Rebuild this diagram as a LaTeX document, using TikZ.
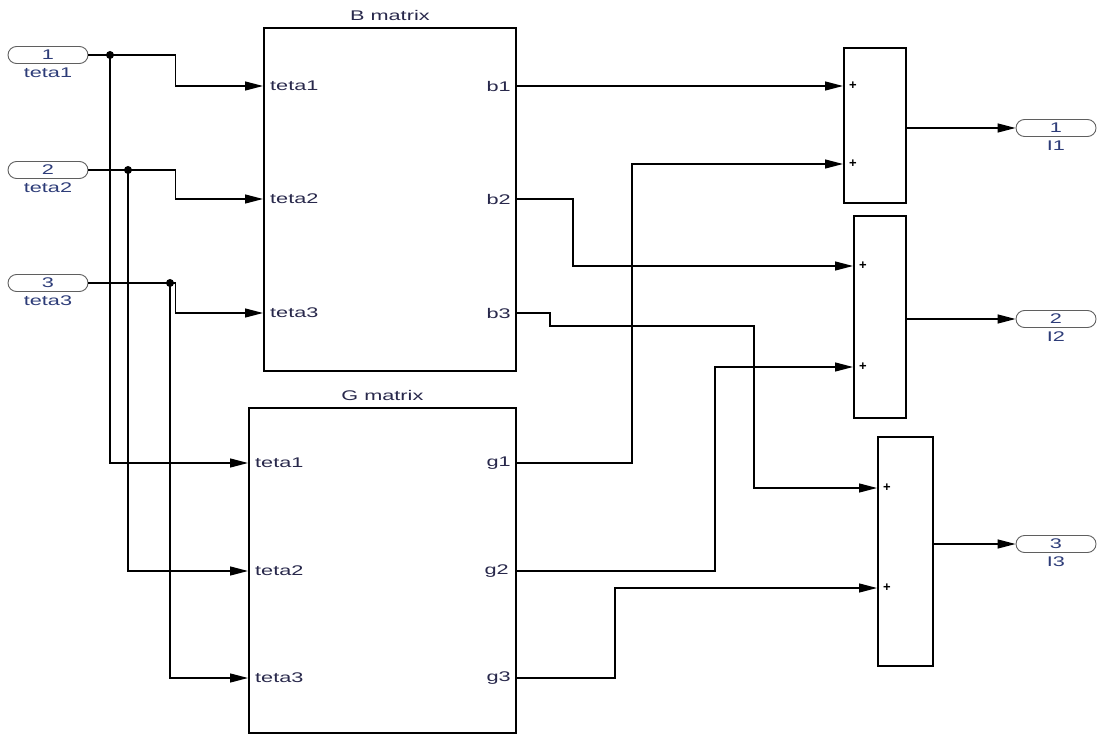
\documentclass[tikz,border=0pt]{standalone}
\usepackage{fontspec}
\usepackage{graphicx}
\setmainfont{Liberation Sans}
\usetikzlibrary{arrows.meta, positioning}

\definecolor{labcol}{RGB}{40,40,75}
\definecolor{numcol}{RGB}{45,60,120}
\definecolor{ovalcol}{RGB}{95,95,95}
\newcommand{\sw}[1]{\scalebox{1.55}[1]{#1}}

\begin{document}
\begin{tikzpicture}[x=1pt, y=-1pt, >={Triangle[length=18pt,width=9pt]},
  wire/.style={line width=1.3pt},
  blk/.style={draw, line width=1.8pt, inner sep=0pt, anchor=north west},
  oval/.style={draw=ovalcol, line width=0.9pt, rounded corners=8.5pt,
    minimum width=80pt, minimum height=17pt, inner sep=0pt, text=numcol,
    font=\fontsize{14}{16}\selectfont},
  lbl/.style={inner sep=0pt, text=labcol, font=\fontsize{14}{16}\selectfont},
  plus/.style={inner sep=0pt, font=\fontsize{13}{15}\selectfont\bfseries},
  jdot/.style={circle, fill, inner sep=0pt, minimum size=8pt}]
  \useasboundingbox (0,0) rectangle (1097,735);

  % Inports
  \node[oval] (in1) at (48,55)  {\sw{1}};
  \node[oval] (in2) at (48,170) {\sw{2}};
  \node[oval] (in3) at (48,283) {\sw{3}};
  \node[lbl, text=numcol, below=4pt of in1] {\sw{teta1}};
  \node[lbl, text=numcol, below=4pt of in2] {\sw{teta2}};
  \node[lbl, text=numcol, below=4pt of in3] {\sw{teta3}};

  % Subsystems
  \node[blk, minimum width=252pt, minimum height=343pt] (B) at (263,27) {};
  \node[blk, minimum width=267pt, minimum height=325pt] (G) at (248,407) {};
  \node[lbl, above=6pt of B] {\sw{B matrix}};
  \node[lbl, above=6pt of G] {\sw{G matrix}};

  \coordinate (Bt1) at (263,86);  \coordinate (Bb1) at (515,86);
  \coordinate (Bt2) at (263,199); \coordinate (Bb2) at (515,199);
  \coordinate (Bt3) at (263,313); \coordinate (Bb3) at (515,313);
  \coordinate (Gt1) at (248,463); \coordinate (Gg1) at (515,463);
  \coordinate (Gt2) at (248,571); \coordinate (Gg2) at (515,571);
  \coordinate (Gt3) at (248,678); \coordinate (Gg3) at (515,678);

  \node[lbl, right=7pt of Bt1] {\sw{teta1}};
  \node[lbl, right=7pt of Bt2] {\sw{teta2}};
  \node[lbl, right=7pt of Bt3] {\sw{teta3}};
  \node[lbl, left=4pt of Bb1] {\sw{b1}};
  \node[lbl, left=4pt of Bb2] {\sw{b2}};
  \node[lbl, left=4pt of Bb3] {\sw{b3}};
  \node[lbl, right=7pt of Gt1] {\sw{teta1}};
  \node[lbl, right=7pt of Gt2] {\sw{teta2}};
  \node[lbl, right=7pt of Gt3] {\sw{teta3}};
  \node[lbl, left=4pt of Gg1] {\sw{g1}};
  \node[lbl, left=6pt of Gg2] {\sw{g2}};
  \node[lbl, left=4pt of Gg3] {\sw{g3}};

  % Sum blocks
  \node[blk, minimum width=62pt, minimum height=155pt] (S1) at (843,47) {};
  \node[blk, minimum width=52pt, minimum height=202pt] (S2) at (853,215) {};
  \node[blk, minimum width=55pt, minimum height=229pt] (S3) at (877,436) {};
  \coordinate (S1a) at (843,86);  \coordinate (S1b) at (843,164);
  \coordinate (S2a) at (853,266); \coordinate (S2b) at (853,367);
  \coordinate (S3a) at (877,488); \coordinate (S3b) at (877,588);
  \foreach \p in {S1a,S1b,S2a,S2b,S3a,S3b}
    \node[plus, right=6pt of \p] {+};

  % Outports
  \node[oval] (out1) at (1056,128) {\sw{1}};
  \node[oval] (out2) at (1056,319) {\sw{2}};
  \node[oval] (out3) at (1056,544) {\sw{3}};
  \node[lbl, text=numcol, below=4pt of out1] {\sw{I1}};
  \node[lbl, text=numcol, below=4pt of out2] {\sw{I2}};
  \node[lbl, text=numcol, below=4pt of out3] {\sw{I3}};

  % Input wiring
  \node[jdot] (j1) at (110,55) {};
  \node[jdot] (j2) at (128,170) {};
  \node[jdot] (j3) at (170,283) {};
  \draw[wire,->] (in1.east) -- ++(87,0) |- (Bt1);
  \draw[wire,->] (in2.east) -- ++(87,0) |- (Bt2);
  \draw[wire,->] (in3.east) -- ++(87,0) |- (Bt3);
  \draw[wire,->] (j1.center) |- (Gt1);
  \draw[wire,->] (j2.center) |- (Gt2);
  \draw[wire,->] (j3.center) |- (Gt3);

  % Output wiring
  \draw[wire,->] (Bb1) -- (S1a);
  \draw[wire,->] (Gg1) -- ++(117,0) |- (S1b);
  \draw[wire,->] (Bb2) -- ++(58,0) |- (S2a);
  \draw[wire,->] (Gg2) -- ++(200,0) |- (S2b);
  \draw[wire,->] (Bb3) -- ++(35,0) -- ++(0,13) -- ++(204,0) |- (S3a);
  \draw[wire,->] (Gg3) -- ++(100,0) |- (S3b);
  \draw[wire,->] (S1.east |- out1.west) -- (out1.west);
  \draw[wire,->] (S2.east |- out2.west) -- (out2.west);
  \draw[wire,->] (S3.east |- out3.west) -- (out3.west);
\end{tikzpicture}
\end{document}
